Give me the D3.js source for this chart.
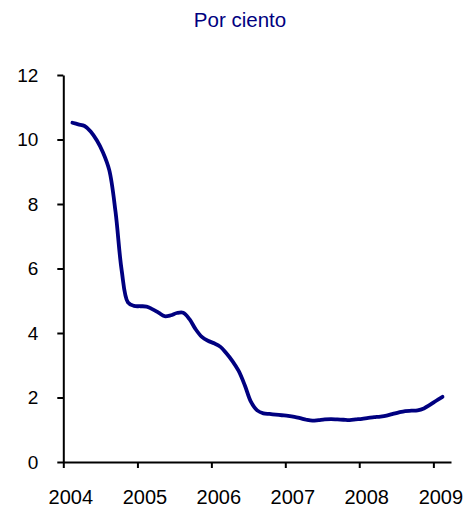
<!DOCTYPE html>
<html>
<head>
<meta charset="utf-8">
<script src="https://cdn.jsdelivr.net/npm/d3@7"></script>
<style>
  body { margin: 0; background: #fff; }
  svg { display: block; font-family: "Liberation Sans", Arial, sans-serif; }
</style>
</head>
<body>
<script>
// monthly readings, Feb 2004 - Feb 2009 (per cent)
const startMonth = '2004-02'
const values = [
  10.52, 10.47, 10.42, 10.25, 9.97, 9.6, 9.05, 7.75, 5.95, 4.95, 4.84,
  4.83, 4.82, 4.74, 4.63, 4.52, 4.55, 4.62, 4.63, 4.43, 4.12, 3.88, 3.76,
  3.68, 3.57, 3.38, 3.13, 2.83, 2.38, 1.87, 1.6, 1.51, 1.49, 1.47, 1.45,
  1.43, 1.4, 1.36, 1.31, 1.28, 1.3, 1.32, 1.33, 1.32, 1.31, 1.3, 1.32,
  1.34, 1.37, 1.39, 1.41, 1.44, 1.49, 1.54, 1.58, 1.59, 1.6, 1.66, 1.77,
  1.9, 2.02
]
const yTicks = [0, 2, 4, 6, 8, 10, 12]
const xYears = [2004, 2005, 2006, 2007, 2008, 2009]
const title = 'Por ciento'

const width = 471
const height = 508
const navy = '#000080'

const parseMonth = d3.timeParse('%Y-%m')
const first = parseMonth(startMonth)
const data = values.map((v, i) => ({
  date: d3.timeDay.offset(d3.timeMonth.offset(first, i), 14),
  value: v
}))

const x = d3.scaleTime()
  .domain([new Date(2004, 0, 1), new Date(2009, 2, 29)])
  .range([63.3, 451])
const y = d3.scaleLinear().domain([0, 12]).range([462, 75])

const svg = d3.select('body').append('svg')
  .attr('width', width)
  .attr('height', height)

svg.append('text')
  .attr('x', 240)
  .attr('y', 27)
  .attr('text-anchor', 'middle')
  .attr('fill', navy)
  .style('font-size', '20.5px')
  .text(title)

// Y axis
const yAxis = svg.append('g')
  .attr('transform', `translate(${x.range()[0]},0)`)
  .call(d3.axisLeft(y).tickValues(yTicks).tickSize(6).tickSizeOuter(0).tickPadding(19))
yAxis.selectAll('text').style('font-size', '19px').attr('fill', '#000')

// X axis
const xAxis = svg.append('g')
  .attr('transform', `translate(0,${y(0)})`)
  .call(d3.axisBottom(x)
    .tickValues(xYears.map(yr => new Date(yr, 0, 1)))
    .tickFormat(d3.timeFormat('%Y'))
    .tickSize(6).tickSizeOuter(0).tickPadding(22))
xAxis.selectAll('text').style('font-size', '20px').attr('fill', '#000').attr('dx', 7)

svg.selectAll('.domain, .tick line')
  .attr('stroke', '#000')
  .attr('stroke-width', 2)

svg.append('path')
  .datum(data)
  .attr('fill', 'none')
  .attr('stroke', navy)
  .attr('stroke-width', 3.8)
  .attr('stroke-linecap', 'round')
  .attr('stroke-linejoin', 'round')
  .attr('d', d3.line()
    .x(d => x(d.date))
    .y(d => y(d.value))
    .curve(d3.curveCatmullRom))
</script>
</body>
</html>
